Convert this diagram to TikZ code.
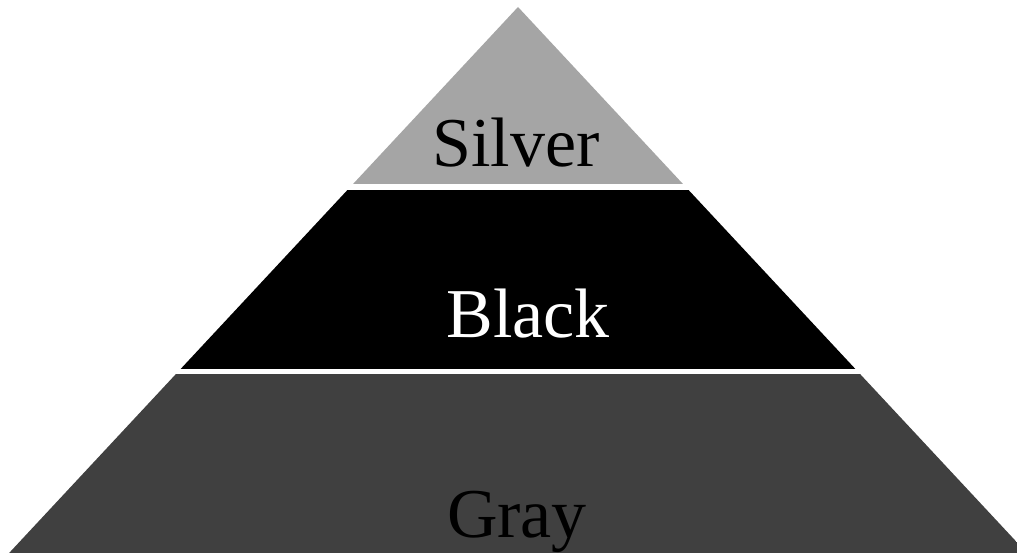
\documentclass[tikz,border=0pt]{standalone}
\usepackage{fontspec}
\setmainfont{Liberation Serif}
\definecolor{silvercol}{HTML}{A5A5A5}
\definecolor{graycol}{HTML}{404040}
\begin{document}
\begin{tikzpicture}[x=1pt,y=-1pt,
  layertext/.style={font=\fontsize{70}{70}\selectfont, inner sep=0pt, anchor=base}]
\useasboundingbox (0,0) rectangle (1017,553);
\fill[white] (0,0) rectangle (1017,553);
\coordinate (apex) at (518,7);
\coordinate (bl) at (-41.2,607);
\coordinate (br) at (1077.2,607);
\begin{scope}
  \clip (0,0) rectangle (1017,553);
  \clip (apex) -- (bl) -- (br) -- cycle;
  \fill[silvercol] (0,0) rectangle (1017,184);
  \fill[black] (0,190) rectangle (1017,369);
  \fill[graycol] (0,374) rectangle (1017,560);
\end{scope}
\node[layertext] (silver) at (516,167) {Silver};
\node[layertext,text=white] (blacklayer) at (528,337) {Black};
\node[layertext] (graylayer) at (517,537) {Gray};
\end{tikzpicture}
\end{document}
